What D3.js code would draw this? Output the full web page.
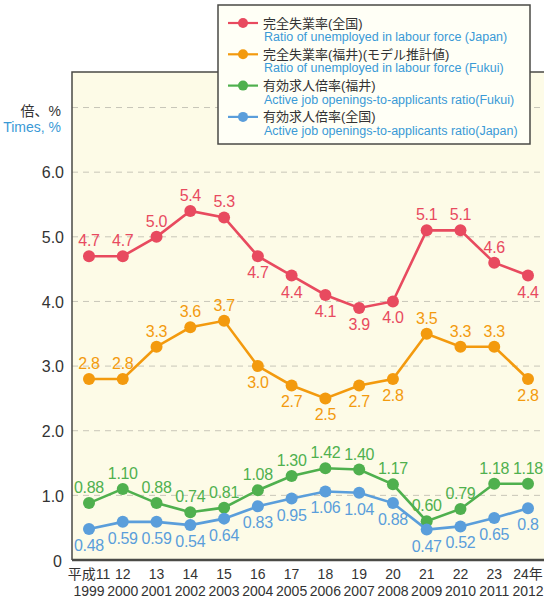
<!DOCTYPE html>
<html>
<head>
<meta charset="utf-8">
<script src="https://cdn.jsdelivr.net/npm/d3@7"></script>
<style>
  html, body { margin: 0; padding: 0; background: #fff; }
  svg { display: block; font-family: "Liberation Sans", Arial, "Noto Sans CJK JP", sans-serif; }
</style>
</head>
<body>
<div id="chart"></div>
<script>
// Years (x categories)
const years = [1999, 2000, 2001, 2002, 2003, 2004, 2005, 2006, 2007, 2008, 2009, 2010, 2011, 2012];
const eraLabels = ["平成11", "12", "13", "14", "15", "16", "17", "18", "19", "20", "21", "22", "23", "24年"];

// Series values
const unempJapan = [4.7, 4.7, 5.0, 5.4, 5.3, 4.7, 4.4, 4.1, 3.9, 4.0, 5.1, 5.1, 4.6, 4.4];
const unempFukui = [2.8, 2.8, 3.3, 3.6, 3.7, 3.0, 2.7, 2.5, 2.7, 2.8, 3.5, 3.3, 3.3, 2.8];
const jobsFukui = [0.88, 1.10, 0.88, 0.74, 0.81, 1.08, 1.30, 1.42, 1.40, 1.17, 0.60, 0.79, 1.18, 1.18];
const jobsJapan = [0.48, 0.59, 0.59, 0.54, 0.64, 0.83, 0.95, 1.06, 1.04, 0.88, 0.47, 0.52, 0.65, 0.8];

const yTicks = [0, 1, 2, 3, 4, 5, 6];

// label side per point: 1 = above, -1 = below
const sideUnemp = [1, 1, 1, 1, 1, -1, -1, -1, -1, -1, 1, 1, 1, -1];

const series = [
  { jp: "完全失業率(全国)", en: "Ratio of unemployed in labour force (Japan)", values: unempJapan,
    color: "#e84a5f", fmt: d3.format(".1f"), side: sideUnemp },
  { jp: "完全失業率(福井)(モデル推計値)", en: "Ratio of unemployed in labour force (Fukui)", values: unempFukui,
    color: "#f39a0e", fmt: d3.format(".1f"), side: sideUnemp },
  { jp: "有効求人倍率(福井)", en: "Active job openings-to-applicants ratio(Fukui)", values: jobsFukui,
    color: "#4fb04e", fmt: d3.format(".2f"), side: years.map(() => 1) },
  { jp: "有効求人倍率(全国)", en: "Active job openings-to-applicants ratio(Japan)", values: jobsJapan,
    color: "#5a9edb", fmt: d => String(d), side: years.map(() => -1) }
];

const width = 544, height = 598;
const plot = { left: 72, top: 72, right: 544, bottom: 560 };

const svg = d3.select("#chart").append("svg")
  .attr("width", width)
  .attr("height", height);

const x = d3.scalePoint().domain(years).range([89, 528]);
const y = d3.scaleLinear().domain([0, 7]).range([plot.bottom, plot.bottom - 7 * 64.64]);

// plot background
svg.append("rect")
  .attr("x", plot.left).attr("y", plot.top)
  .attr("width", plot.right - plot.left).attr("height", plot.bottom - plot.top)
  .attr("fill", "#fdfbe7");

// dashed grid
svg.append("g")
  .selectAll("line")
  .data([1, 2, 3, 4, 5, 6, 7])
  .join("line")
  .attr("x1", plot.left).attr("x2", plot.right)
  .attr("y1", d => y(d)).attr("y2", d => y(d))
  .attr("stroke", "#c8c6b8")
  .attr("stroke-width", 1)
  .attr("stroke-dasharray", "6,5");

// frame
svg.append("path")
  .attr("d", `M${plot.right},${plot.top}H${plot.left}V${plot.bottom}`)
  .attr("fill", "none").attr("stroke", "#4a4a46").attr("stroke-width", 1.5);
svg.append("line")
  .attr("x1", plot.left).attr("x2", plot.right)
  .attr("y1", plot.bottom).attr("y2", plot.bottom)
  .attr("stroke", "#4a4a46").attr("stroke-width", 2.5);

// y tick labels
const yAxis = d3.axisLeft(y).tickValues(yTicks)
  .tickFormat(d => d === 0 ? "0" : d3.format(".1f")(d))
  .tickSize(0).tickPadding(0);
const ya = svg.append("g").attr("transform", "translate(64,0)").call(yAxis);
ya.select(".domain").remove();
ya.selectAll("text").attr("font-size", 16).attr("fill", "#333").attr("font-family", null)
  .attr("dy", "0.36em")
  .filter(d => d === 0).attr("x", -2).attr("dy", "0.42em");

// y unit labels
svg.append("text").attr("x", 61).attr("y", 116).attr("text-anchor", "end")
  .attr("font-size", 14).attr("fill", "#333").text("倍、%");
svg.append("text").attr("x", 61).attr("y", 132).attr("text-anchor", "end")
  .attr("font-size", 14).attr("fill", "#3a9ad6").text("Times, %");

// x labels
const xl = svg.append("g").attr("font-size", 14).attr("fill", "#333").attr("text-anchor", "middle");
xl.selectAll("text.era").data(years).join("text").attr("class", "era")
  .attr("x", d => x(d)).attr("y", 579).text((d, i) => eraLabels[i]);
xl.selectAll("text.yr").data(years).join("text").attr("class", "yr")
  .attr("x", d => x(d)).attr("y", 596).text(d => d);

// lines, points, labels
const line = d3.line().x((d, i) => x(years[i])).y(d => y(d));

series.forEach(s => {
  const g = svg.append("g");
  g.append("path").datum(s.values)
    .attr("d", line).attr("fill", "none")
    .attr("stroke", s.color).attr("stroke-width", 2.6);
  g.selectAll("circle").data(s.values).join("circle")
    .attr("cx", (d, i) => x(years[i])).attr("cy", d => y(d))
    .attr("r", 6).attr("fill", s.color);
  g.selectAll("text").data(s.values).join("text")
    .attr("x", (d, i) => x(years[i]))
    .attr("y", (d, i) => s.side[i] > 0 ? y(d) - 10 : y(d) + 22)
    .attr("text-anchor", "middle")
    .attr("font-size", 16)
    .attr("letter-spacing", -0.3)
    .attr("fill", s.color)
    .text(d => s.fmt(d));
});

// legend
const lg = svg.append("g");
lg.append("rect").attr("x", 218).attr("y", 5).attr("width", 312).attr("height", 139)
  .attr("fill", "#fffff6").attr("stroke", "#4a4a46").attr("stroke-width", 1.5);
series.forEach((s, i) => {
  const cy = 23 + i * 31.3;
  lg.append("line").attr("x1", 228).attr("x2", 258).attr("y1", cy).attr("y2", cy)
    .attr("stroke", s.color).attr("stroke-width", 2.2);
  lg.append("circle").attr("cx", 243).attr("cy", cy).attr("r", 5).attr("fill", s.color);
  lg.append("text").attr("x", 263).attr("y", cy + 4.5).attr("font-size", 13)
    .attr("fill", "#333").text(s.jp);
  lg.append("text").attr("x", 264).attr("y", cy + 18).attr("font-size", 12.5)
    .attr("fill", "#3a9ad6").text(s.en);
});
</script>
</body>
</html>
